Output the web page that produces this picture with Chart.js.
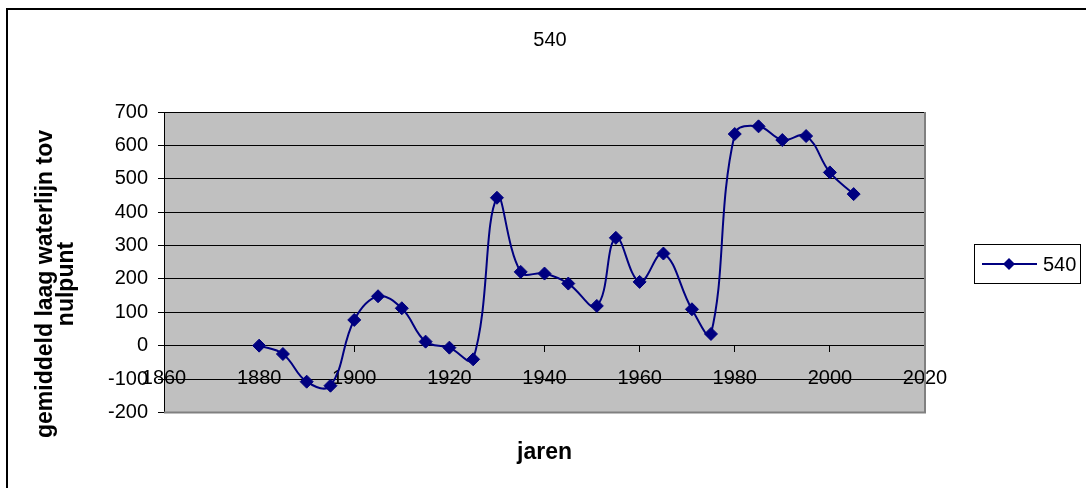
<!DOCTYPE html>
<html><head><meta charset="utf-8">
<script src="https://cdn.jsdelivr.net/npm/chart.js@4.4.1/dist/chart.umd.min.js"></script>
<style>html,body{margin:0;padding:0;background:#fff;overflow:hidden}canvas{display:block}</style>
</head><body>
<canvas id="c" width="1086" height="488"></canvas>
<script>
const years = [1880,1885,1890,1895,1900,1905,1910,1915,1920,1925,1930,1935,1940,1945,1951,1955,1960,1965,1971,1975,1980,1985,1990,1995,2000,2005];
const values = [0,-25,-108,-120,77,148,112,12,-6,-41,443,221,216,186,119,323,191,276,109,35,634,657,616,628,519,454];
const seriesName = '540';
const chartTitle = '540';
const xTitle = 'jaren';
const yTitle = ['gemiddeld laag waterlijn tov', 'nulpunt'];
const xTickValues = [1860,1880,1900,1920,1940,1960,1980,2000,2020];
const xTickLabels = ['1860','1880','1900','1920','1940','1960','1980','2000','2020'];
const yTickValues = [-200,-100,0,100,200,300,400,500,600,700];
const yTickLabels = ['-200','-100','0','100','200','300','400','500','600','700'];

const FAM = '"Liberation Sans", Arial, sans-serif';
const NAVY = '#000080';

const frame = {
  id: 'frame',
  beforeDraw(chart) {
    const {ctx, chartArea: a} = chart;
    ctx.save();
    ctx.fillStyle = '#fff';
    ctx.fillRect(0, 0, chart.width, chart.height);
    ctx.fillStyle = '#C0C0C0';
    ctx.fillRect(a.left, a.top, a.right - a.left, a.bottom - a.top);
    ctx.restore();
  },
  beforeDatasetsDraw(chart) {
    const {ctx, chartArea: a} = chart;
    ctx.save();
    ctx.strokeStyle = '#808080';
    ctx.lineWidth = 2;
    ctx.beginPath();
    ctx.moveTo(a.left, a.bottom);
    ctx.lineTo(a.right, a.bottom);
    ctx.lineTo(a.right, a.top);
    ctx.stroke();
    ctx.restore();
  },
  afterDraw(chart) {
    const {ctx} = chart;
    ctx.save();
    // outer border
    ctx.strokeStyle = '#000';
    ctx.lineWidth = 2;
    ctx.strokeRect(7, 9, 1200, 600);
    // y axis title
    ctx.fillStyle = '#000';
    ctx.font = 'bold 23px ' + FAM;
    ctx.textAlign = 'center';
    ctx.textBaseline = 'middle';
    ctx.translate(46, 284);
    ctx.rotate(-Math.PI / 2);
    yTitle.forEach((t, i) => ctx.fillText(t, 0, i * 21));
    ctx.setTransform(1, 0, 0, 1, 0, 0);
    // legend
    ctx.strokeStyle = '#000';
    ctx.lineWidth = 1;
    ctx.strokeRect(974.5, 244.5, 106, 39);
    const ly = 264;
    ctx.strokeStyle = NAVY;
    ctx.lineWidth = 2;
    ctx.beginPath();
    ctx.moveTo(982, ly);
    ctx.lineTo(1037, ly);
    ctx.stroke();
    ctx.fillStyle = NAVY;
    ctx.beginPath();
    ctx.moveTo(1009, ly - 6);
    ctx.lineTo(1015, ly);
    ctx.lineTo(1009, ly + 6);
    ctx.lineTo(1003, ly);
    ctx.closePath();
    ctx.fill();
    ctx.fillStyle = '#000';
    ctx.font = '20px ' + FAM;
    ctx.textBaseline = 'middle';
    ctx.textAlign = 'left';
    ctx.fillText(seriesName, 1043, ly + 1);
    ctx.restore();
  }
};

new Chart(document.getElementById('c'), {
  type: 'line',
  data: {
    datasets: [{
      label: seriesName,
      data: years.map((y, i) => ({x: y, y: values[i]})),
      borderColor: NAVY,
      backgroundColor: NAVY,
      borderWidth: 2,
      tension: 0.4,
      pointStyle: 'rectRot',
      pointRadius: 6.5,
      pointBorderWidth: 1,
      pointBackgroundColor: NAVY,
      pointBorderColor: NAVY,
      fill: false
    }]
  },
  options: {
    responsive: false,
    animation: false,
    layout: {padding: {left: 14, right: 0, top: 0, bottom: 0}},
    plugins: {
      legend: {display: false},
      tooltip: {enabled: false},
      title: {display: true, text: chartTitle, color: '#000',
        font: {family: FAM, size: 20, weight: 'normal', lineHeight: 1.2},
        padding: {top: 28, bottom: 60}},
      subtitle: {display: true, position: 'bottom', fullSize: false, text: xTitle, color: '#000',
        font: {family: FAM, size: 23, weight: 'bold', lineHeight: 1.2},
        padding: {top: 26, bottom: 22}}
    },
    scales: {
      x: {
        type: 'linear',
        position: {y: 0},
        min: xTickValues[0], max: xTickValues[xTickValues.length - 1],
        afterBuildTicks(s) { s.ticks = xTickValues.map(v => ({value: v})); },
        grid: {drawOnChartArea: false, color: '#000', tickLength: 6},
        border: {display: false},
        ticks: {color: '#000', font: {family: FAM, size: 20}, padding: 15, maxRotation: 0, autoSkip: false,
          callback: (v, i) => xTickLabels[i]}
      },
      y: {
        type: 'linear',
        position: 'left',
        min: yTickValues[0], max: yTickValues[yTickValues.length - 1],
        afterBuildTicks(s) { s.ticks = yTickValues.map(v => ({value: v})); },
        afterFit(s) { s.width = 164 - 14; },
        grid: {color: '#000', tickLength: 6},
        border: {color: '#000', width: 1},
        ticks: {color: '#000', font: {family: FAM, size: 20}, padding: 10,
          callback: (v, i) => yTickLabels[i]}
      },
      yRight: {
        type: 'linear',
        position: 'right',
        display: true,
        grid: {display: false},
        border: {display: false},
        ticks: {display: false},
        afterFit(s) { s.width = 1086 - 925; }
      }
    }
  },
  plugins: [frame]
});
</script>
</body></html>
